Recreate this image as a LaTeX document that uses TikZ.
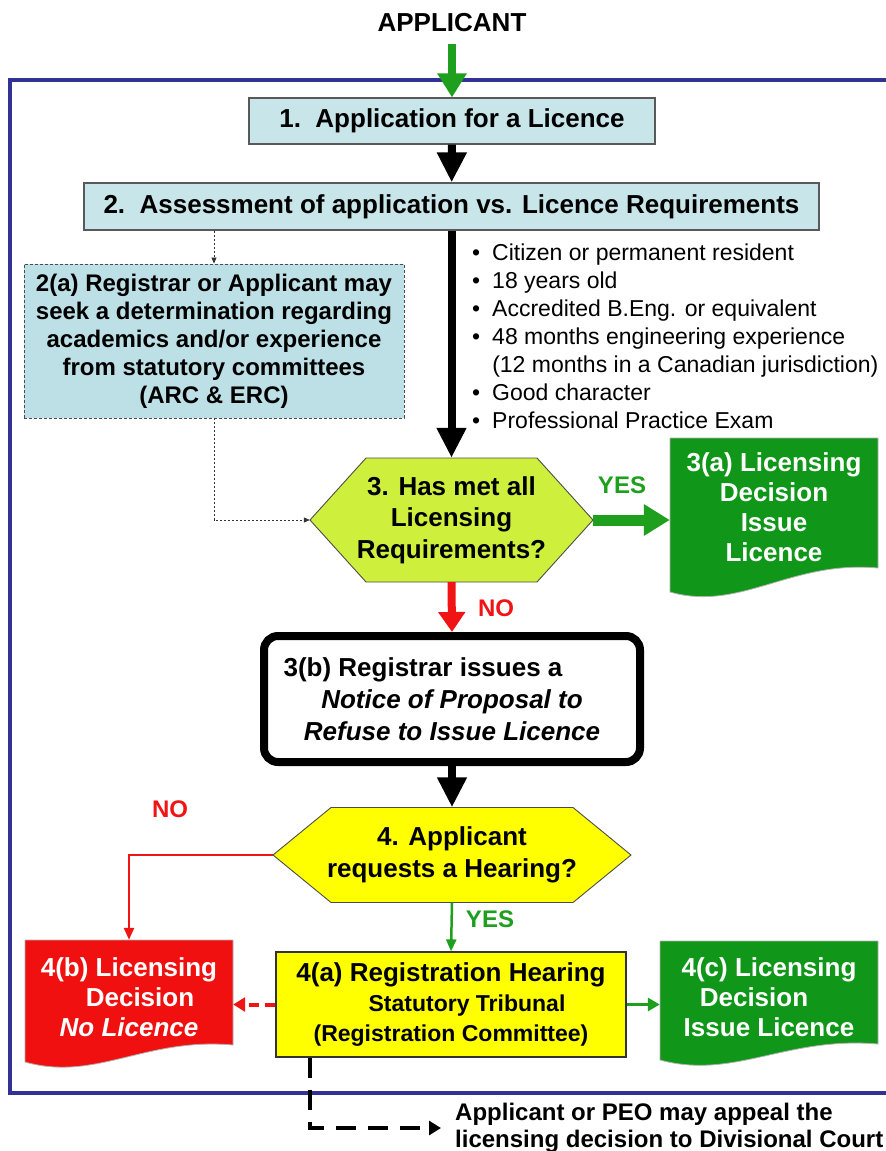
\documentclass[tikz,border=0pt]{standalone}
\usepackage{fontspec}
\setmainfont{Liberation Sans}
\usetikzlibrary{arrows.meta,calc}
\definecolor{lblue}{RGB}{200,230,234}
\definecolor{lblueB}{RGB}{188,224,230}
\definecolor{limeY}{RGB}{206,240,60}
\definecolor{yel}{RGB}{255,255,0}
\definecolor{docgreen}{RGB}{16,150,24}
\definecolor{docred}{RGB}{240,16,16}
\definecolor{argreen}{RGB}{30,160,30}
\definecolor{arred}{RGB}{240,20,20}
\definecolor{frameblue}{RGB}{50,50,150}
\newcommand\fBig{\fontsize{26}{31}\selectfont}
\begin{document}
\begin{tikzpicture}[x=1pt,y=-1pt,
  box/.style={rectangle, draw=gray!70!black, line width=1.2pt, fill=lblue, inner sep=0pt, font=\bfseries\fBig},
  box2a/.style={rectangle, draw=gray!60!black, line width=0.9pt, dash pattern=on 3pt off 2pt, fill=lblueB, inner sep=0pt, align=center, font=\bfseries\fontsize{24}{28}\selectfont},
  hexshape/.style={draw=gray!60!black, line width=0.9pt},
  hexnode/.style={rectangle, inner sep=0pt, align=center, font=\bfseries\fontsize{26}{31.5}\selectfont},
  docshape/.style={draw=gray!60, line width=0.8pt},
  doctext/.style={rectangle, inner sep=0pt, align=center, text=white, font=\bfseries\fontsize{26}{30}\selectfont},
  noticebox/.style={rectangle, draw=black, line width=8pt, rounded corners=14pt, fill=white, inner sep=0pt, align=center, font=\bfseries\fontsize{26}{32}\selectfont},
  hearbox/.style={rectangle, draw=gray!40!black, line width=1.2pt, fill=yel, inner sep=0pt, align=center, font=\bfseries\fontsize{23}{30}\selectfont},
  lbl/.style={inner sep=0pt, font=\bfseries\fontsize{24}{28}\selectfont},
  bigblack/.style={line width=8pt, black, -{Triangle[width=28pt,length=30pt]}},
  biggreen/.style={line width=8pt, argreen, -{Triangle[width=28pt,length=24pt]}},
  greenside/.style={line width=11pt, argreen, -{Triangle[width=30pt,length=26pt]}},
  bigred/.style={line width=8pt, arred, -{Triangle[width=26pt,length=20pt]}},
  thingreen/.style={line width=2.5pt, argreen, -{Triangle[width=10pt,length=12pt]}},
  medgreen/.style={line width=3.5pt, argreen, -{Triangle[width=13pt,length=12pt]}},
  thinred/.style={line width=2.5pt, arred, -{Triangle[width=10pt,length=12pt]}},
  reddash/.style={line width=4pt, arred, dash pattern=on 10pt off 6pt, -{Triangle[width=14pt,length=12pt]}},
  appealarrow/.style={line width=4pt, black, dash pattern=on 20pt off 12pt, -{Triangle[width=14pt,length=12pt]}},
  dotconn/.style={line width=0.8pt, gray!40!black, dash pattern=on 2pt off 2pt, -{Triangle[width=5pt,length=6pt]}},
  frame/.style={line width=3.5pt, frameblue}
]
\fill[white] (0,0) rectangle (886,1151);
\useasboundingbox (0,0) rectangle (886,1151);

% blue frame
\draw[frame] (895,80) -- (10,80) -- (10,1093) -- (895,1093);

% shapes drawn directly
\filldraw[hexshape, fill=limeY] (310,520) -- (366,458) -- (537,458) -- (593,520) -- (537,582) -- (366,582) -- cycle;
\filldraw[hexshape, fill=yel] (273,855) -- (331,807.5) -- (573,807.5) -- (631,855) -- (573,902.5) -- (331,902.5) -- cycle;
\filldraw[docshape, fill=docgreen] (670,438) -- (878,438) -- (878,568) .. controls (790.6,560) and (740.7,612) .. (670,592) -- cycle;
\filldraw[docshape, fill=docred] (25,940) -- (233,940) -- (233,1045) .. controls (145.6,1037) and (95.7,1082) .. (25,1062) -- cycle;
\filldraw[docshape, fill=docgreen] (660,941) -- (878,941) -- (878,1044) .. controls (786.4,1036) and (734.1,1080) .. (660,1060) -- cycle;

% nodes
\node[inner sep=0pt, font=\bfseries\fBig] (app) at (452,23) {APPLICANT};
\node[box, minimum width=406, minimum height=46] (b1) at (452,121) {1.\ \ Application for a Licence};
\node[box, minimum width=735, minimum height=47] (b2) at (451.5,206.5) {2.\ \ Assessment of application vs. Licence Requirements};
\node[box2a, minimum width=380, minimum height=154] (b2a) at (214,341) {2(a) Registrar or Applicant may\\seek a determination regarding\\academics and/or experience\\from statutory committees\\(ARC \& ERC)};
\node[anchor=west, inner sep=0pt, font=\fontsize{23}{28}\selectfont] (req) at (472,339) {\begin{tabular}{@{}l@{\hspace{12pt}}l@{}}
• & Citizen or permanent resident\\
• & 18 years old\\
• & Accredited B.Eng. or equivalent\\
• & 48 months engineering experience\\
  & (12 months in a Canadian jurisdiction)\\
• & Good character\\
• & Professional Practice Exam
\end{tabular}};
\node[hexnode, minimum width=283, minimum height=124] (h3) at (451.5,520) {3. Has met all\\Licensing\\Requirements?};
\node[doctext, minimum width=208, minimum height=138] (d3a) at (774,507) {3(a) Licensing\\Decision\\Issue\\Licence};
\node[noticebox, minimum width=376, minimum height=126] (b3b) at (452,699) {3(b) Registrar issues a\hspace{58pt}\mbox{}\\\itshape Notice of Proposal to\\\itshape Refuse to Issue Licence};
\node[hexnode, minimum width=358, minimum height=95] (h4) at (452,855) {4. Applicant\\requests a Hearing?};
\node[hearbox, minimum width=350, minimum height=105] (b4a) at (451,1004.5) {{\fBig 4(a) Registration Hearing}\\\hspace*{32pt}Statutory Tribunal\\(Registration Committee)};
\node[doctext, minimum width=208, minimum height=114] (d4b) at (129,997) {4(b) Licensing\\\hspace*{22pt}Decision\\\itshape No Licence};
\node[doctext, minimum width=218, minimum height=112] (d4c) at (769,997) {4(c) Licensing\\Decision\hspace{30pt}\mbox{}\\Issue Licence};
\node[anchor=west, inner sep=0pt, align=left, font=\bfseries\fontsize{24}{27}\selectfont] (apt) at (455,1128) {Applicant or PEO may appeal the\\licensing decision to Divisional Court};

% labels
\node[lbl, text=argreen] (yes1) at (622,485) {YES};
\node[lbl, text=arred] (no1) at (496,608) {NO};
\node[lbl, text=arred] (no2) at (170,809) {NO};
\node[lbl, text=argreen] (yes2) at (490,919) {YES};

% connectors
\draw[biggreen, shorten <=12pt] (app) -- (b1);
\draw[bigblack] (b1) -- (b2);
\draw[bigblack] (b2.south -| h3.north) -- (h3.north);
\draw[dotconn] (b2.south -| b2a.north) -- (b2a.north);
\draw[dotconn] (b2a.south) |- (h3.west);
\draw[greenside] (h3.east) -- (h3.east -| d3a.west);
\draw[bigred] (h3.south) -- (b3b.north);
\draw[bigblack] (b3b.south) -- (h4.north);
\draw[thinred] (h4.west) -| (d4b.north);
\draw[thingreen] (h4.south) -- (b4a.north);
\draw[reddash] (b4a.west) -- (b4a.west -| d4b.east);
\draw[medgreen] (b4a.east) -- (b4a.east -| d4c.west);
\draw[appealarrow] ($(b4a.south west)+(35,0)$) |- ([xshift=-14pt]apt.west);
\end{tikzpicture}
\end{document}
